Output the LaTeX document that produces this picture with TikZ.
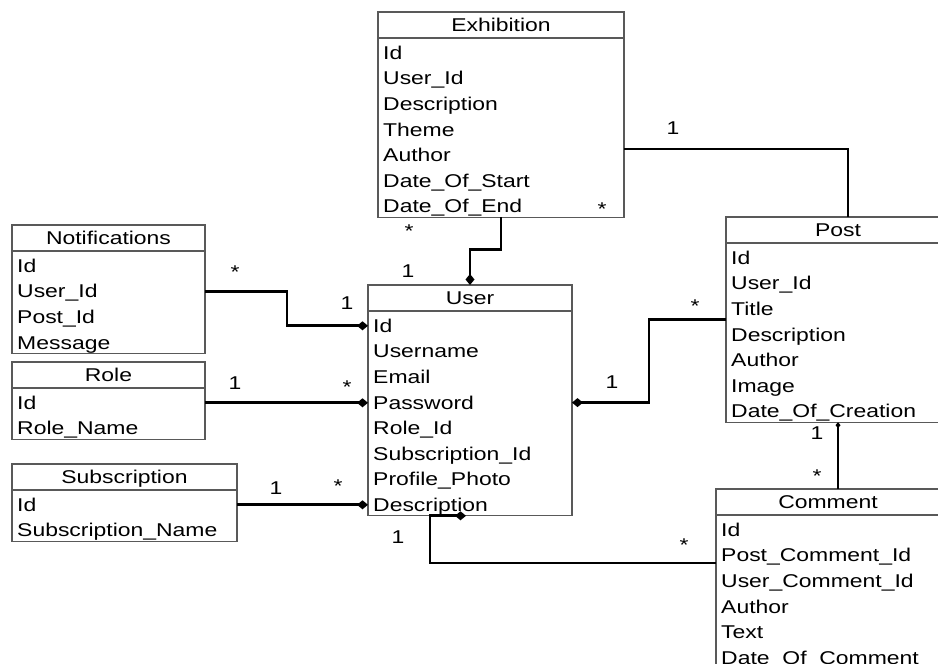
\documentclass[tikz,border=0pt]{standalone}
\usepackage{fontspec}
\setmainfont{Liberation Sans}[FakeStretch=1.24]
\usepackage{tikz}
\usetikzlibrary{positioning,calc,arrows.meta}
\definecolor{boxgray}{rgb}{0.35, 0.35, 0.35}

\tikzset{
	classbox/.style={draw=boxgray, line width=1.1pt, anchor=north west, inner sep=0pt, outer sep=0pt},
	classline/.style={draw=boxgray, line width=1.1pt},
	classtitle/.style={inner sep=0pt, text height=13.2pt, text depth=0pt},
	classrow/.style={anchor=west, inner sep=0pt, text height=13.2pt, text depth=0pt},
	assoc/.style={line width=2.8pt, black},
	thinassoc/.style={line width=1.1pt, black},
	multone/.style={inner sep=0pt, text height=13.2pt, text depth=0pt},
	multmany/.style={inner sep=0pt, text height=13.2pt, text depth=0pt, yshift=-4pt}
}

% #1 name, #2 north west corner, #3 width, #4 number of rows, #5 title, #6 rows
\newcommand{\umlclass}[6]{%
	\node[classbox, minimum width=#3, minimum height={26+#4*25.6}] (#1) at (#2) {};
	\draw[classline] ([yshift=-26pt]#1.north west) -- ([yshift=-26pt]#1.north east);
	\node[classtitle] (#1-title) at ([yshift=-13pt]#1.north) {#5};
	\foreach \row [count=\i] in {#6}
		\node[classrow] (#1-\i) at ([xshift=5pt, yshift={-40.8-(\i-1)*25.6}]#1.north west) {\row};
}

\begin{document}
\begin{tikzpicture}[x=1pt, y=1pt, font=\fontsize{18.5}{22}\selectfont]
	
	\useasboundingbox (0,0) rectangle (938,664);
	\clip (0,0) rectangle (938,664);
	
	\umlclass{exhib}{378,652}{246}{7}{Exhibition}{Id, User\_Id, Description, Theme, Author, Date\_Of\_Start, Date\_Of\_End}
	\umlclass{notif}{12,439}{193}{4}{Notifications}{Id, User\_Id, Post\_Id, Message}
	\umlclass{role}{12,302}{193}{2}{Role}{Id, Role\_Name}
	\umlclass{subs}{12,200}{225}{2}{Subscription}{Id, Subscription\_Name}
	\umlclass{user}{368,379}{204}{8}{User}{Id, Username, Email, Password, Role\_Id, Subscription\_Id, Profile\_Photo, Description}
	\umlclass{post}{726,447}{224}{7}{Post}{Id, User\_Id, Title, Description, Author, Image, Date\_Of\_Creation}
	\umlclass{comment}{716,175}{224}{6}{Comment}{Id, Post\_Comment\_Id, User\_Comment\_Id, Author, Text, Date\_Of\_Comment}
	
	% associations
	\draw[assoc, -{Diamond[length=11pt,width=9pt]}] (exhib.south) -- ++(0,-32) -| (user.north);
	\draw[assoc] ([yshift=-137pt]exhib.north east) -| ([xshift=122pt]post.north west);
	\draw[assoc, -{Diamond[length=11pt,width=9pt]}] (notif-2 -| notif.east) -- ++(82,0) |- (user-1 -| user.west);
	\draw[assoc, -{Diamond[length=11pt,width=9pt]}] (role-1 -| role.east) -- (role-1 -| user.west);
	\draw[assoc, -{Diamond[length=11pt,width=9pt]}] (subs-1 -| subs.east) -- (subs-1 -| user.west);
	\draw[assoc, {Diamond[length=11pt,width=9pt]}-] (user-4 -| user.east) -- ++(77,0) |- ([yshift=-102.8pt]post.north west);
	\draw[assoc, {Diamond[length=11pt,width=9pt]}-] ([xshift=98pt]user.south west) -- ([xshift=62pt]user.south west) |- ([yshift=-74pt]comment.north west);
	\draw[thinassoc, {Diamond[length=6pt,width=5pt]}-] (post.south) -- (post.south |- comment.north);
	
	% multiplicities
	\node[multone] (m1) at (673,536) {1};
	\node[multmany] (m2) at (602,459) {*};
	\node[multmany] (m3) at (409,437) {*};
	\node[multone] (m4) at (408,393) {1};
	\node[multmany] (m5) at (235,396) {*};
	\node[multone] (m6) at (347,361) {1};
	\node[multone] (m7) at (235,281) {1};
	\node[multmany] (m8) at (347,281) {*};
	\node[multone] (m9) at (276,176) {1};
	\node[multmany] (m10) at (338,182) {*};
	\node[multone] (m11) at (398,127) {1};
	\node[multmany] (m12) at (684,123) {*};
	\node[multmany] (m13) at (695,362) {*};
	\node[multone] (m14) at (612,282) {1};
	\node[multone] (m15) at (817,231) {1};
	\node[multmany] (m16) at (817,192) {*};
	
\end{tikzpicture}
\end{document}
